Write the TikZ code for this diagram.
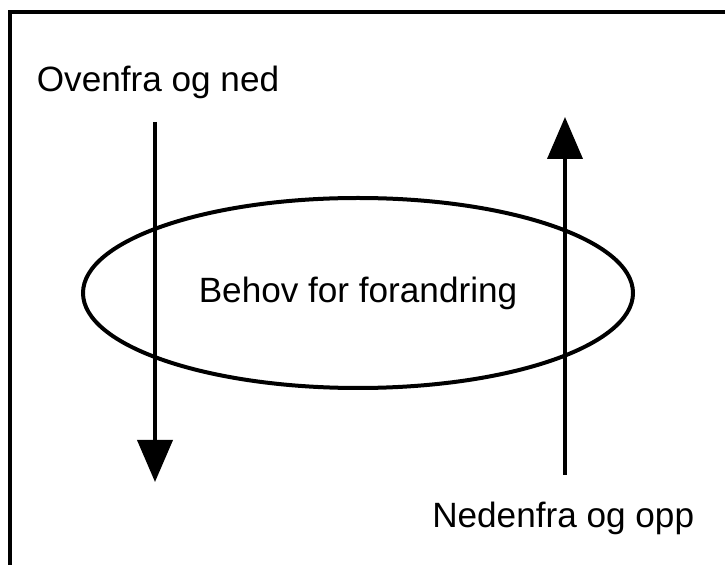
\documentclass[tikz,border=0pt]{standalone}
\usepackage{fontspec}
\setmainfont{Liberation Sans}
\usetikzlibrary{arrows.meta,shapes.geometric}

\tikzset{
  lbl/.style={font=\fontsize{25}{30}\selectfont},
  flow/.style={line width=0.1cm,-{Triangle[length=1.05cm,width=0.875cm]}}
}

\begin{document}
\begin{tikzpicture}
		  \useasboundingbox (0,0) rectangle (18.125,-14.125);
		  \clip (0,0) rectangle (18.125,-14.125);
		  \draw[line width=0.1cm] (0.26,-0.3) rectangle (18.6,-14.6);
		  \node[lbl,draw,ellipse,line width=0.1cm,minimum width=13.75cm,minimum height=4.75cm] (behov) at (8.95,-7.325) {Behov for forandring};
		  \node[lbl] (ned) at (3.95,-2.05) {Ovenfra og ned};
		  \node[lbl] (opp) at (14.08,-12.95) {Nedenfra og opp};
		  \coordinate (n1) at (3.875,-3.05);
		  \coordinate (n2) at (3.875,-12.05);
		  \coordinate (o1) at (14.125,-11.875);
		  \coordinate (o2) at (14.125,-2.925);
		  \draw[flow] (n1) -- (n2);
		  \draw[flow] (o1) -- (o2);
		\end{tikzpicture}
\end{document}
